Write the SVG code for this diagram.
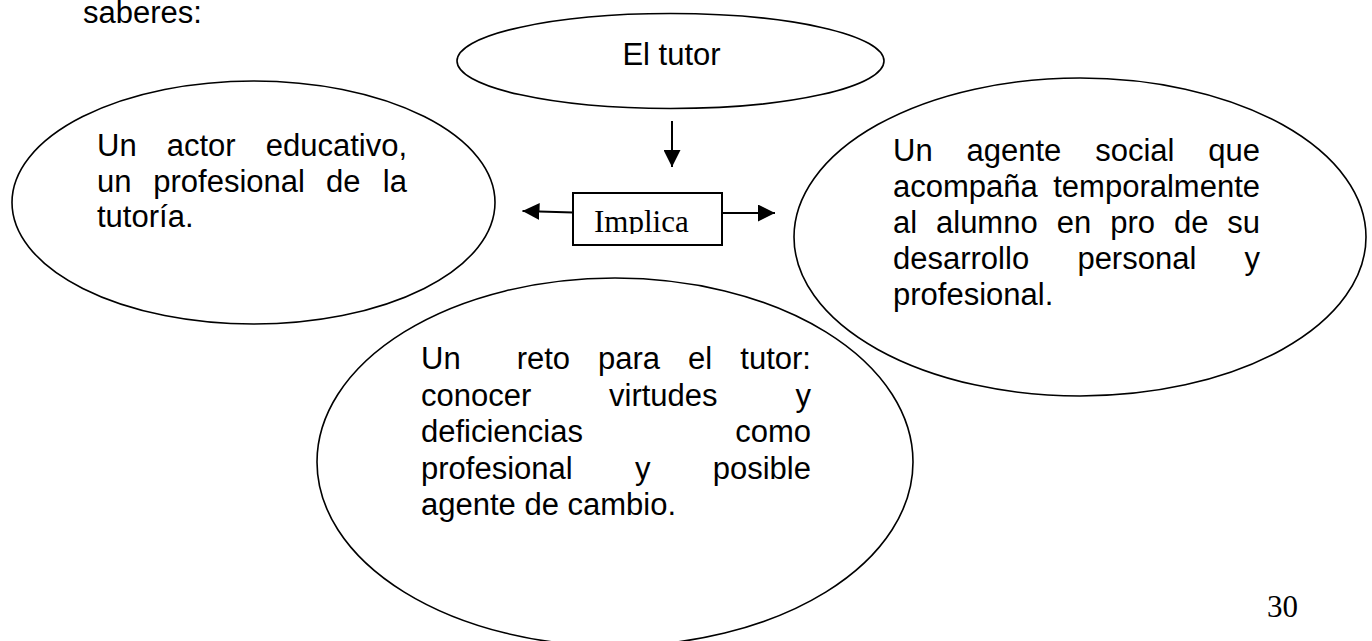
<svg xmlns="http://www.w3.org/2000/svg" width="1372" height="641" viewBox="0 0 1372 641">
<style>
  .sans { font-family: "Liberation Sans", Arial, sans-serif; font-size: 31px; fill: #000; }
  .serif { font-family: "Liberation Serif", "Times New Roman", serif; font-size: 31px; fill: #000; }
  .shape { fill: #fff; stroke: #000; stroke-width: 1.6; }
  .conn { stroke: #000; stroke-width: 2; fill: none; }
</style>
<defs>
  <marker id="ah" markerUnits="userSpaceOnUse" markerWidth="17" markerHeight="17" viewBox="0 0 16 16" refX="16" refY="8" orient="auto">
    <path d="M0,0 L16,8 L0,16 z" fill="#000"/>
  </marker>
  <clipPath id="boxclip"><rect x="573" y="190" width="149" height="44"/></clipPath>
</defs>
<rect width="1372" height="641" fill="#fff"/>
<text class="sans" x="83" y="23">saberes:</text>
<g id="node-bottom">
  <ellipse class="shape" cx="615" cy="462" rx="298" ry="184"/>
  <text class="sans" y="369"><tspan x="421">Un</tspan><tspan x="516.7">reto</tspan><tspan x="598">para</tspan><tspan x="688">el</tspan><tspan x="811" text-anchor="end">tutor:</tspan></text>
  <text class="sans" y="405.5"><tspan x="421">conocer</tspan><tspan x="609">virtudes</tspan><tspan x="811" text-anchor="end">y</tspan></text>
  <text class="sans" y="442"><tspan x="421">deficiencias</tspan><tspan x="811" text-anchor="end">como</tspan></text>
  <text class="sans" y="478.5"><tspan x="421">profesional</tspan><tspan x="635">y</tspan><tspan x="811" text-anchor="end">posible</tspan></text>
  <text class="sans" x="421" y="515">agente de cambio.</text>
</g>
<g id="node-left">
  <ellipse class="shape" cx="253.5" cy="202.5" rx="241.5" ry="121.5"/>
  <text class="sans" y="156"><tspan x="97">Un</tspan><tspan x="166.7">actor</tspan><tspan x="407" text-anchor="end">educativo,</tspan></text>
  <text class="sans" y="191.5"><tspan x="97">un</tspan><tspan x="153.3">profesional</tspan><tspan x="326">de</tspan><tspan x="407" text-anchor="end">la</tspan></text>
  <text class="sans" x="97" y="227">tutoría.</text>
</g>
<g id="node-right">
  <ellipse class="shape" cx="1080" cy="237" rx="286" ry="159"/>
  <text class="sans" y="161"><tspan x="893">Un</tspan><tspan x="966.5">agente</tspan><tspan x="1095.2">social</tspan><tspan x="1260" text-anchor="end">que</tspan></text>
  <text class="sans" y="197"><tspan x="893">acompaña</tspan><tspan x="1260" text-anchor="end">temporalmente</tspan></text>
  <text class="sans" y="233"><tspan x="893">al</tspan><tspan x="936">alumno</tspan><tspan x="1056.7">en</tspan><tspan x="1110.2">pro</tspan><tspan x="1174">de</tspan><tspan x="1260" text-anchor="end">su</tspan></text>
  <text class="sans" y="269"><tspan x="893">desarrollo</tspan><tspan x="1077.4">personal</tspan><tspan x="1260" text-anchor="end">y</tspan></text>
  <text class="sans" x="893" y="305">profesional.</text>
</g>
<g id="node-top">
  <ellipse class="shape" cx="670.5" cy="61" rx="213.5" ry="47.5"/>
  <text class="sans" x="671.5" y="65" text-anchor="middle">El tutor</text>
</g>
<g id="node-implica">
  <rect x="573" y="193" width="149" height="52" fill="#fff" stroke="#000" stroke-width="2"/>
  <text class="serif" x="594" y="232" clip-path="url(#boxclip)">Implica</text>
</g>
<g id="connectors">
  <line class="conn" x1="672" y1="121" x2="672" y2="167" marker-end="url(#ah)"/>
  <line class="conn" x1="573" y1="212.5" x2="522.5" y2="211" marker-end="url(#ah)"/>
  <line class="conn" x1="722" y1="213" x2="775" y2="213" marker-end="url(#ah)"/>
</g>
<text class="serif" x="1267" y="617">30</text>
</svg>
